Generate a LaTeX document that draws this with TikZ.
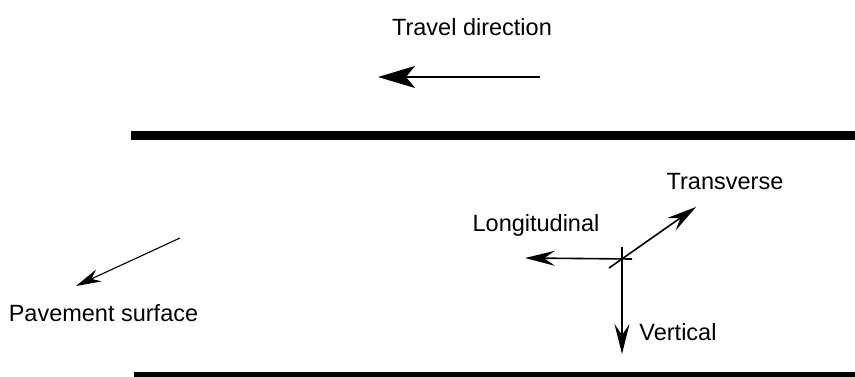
\documentclass[tikz,border=0pt]{standalone}
\usepackage{fontspec}
\setmainfont{Liberation Sans}
\usetikzlibrary{arrows.meta}
\begin{document}
\begin{tikzpicture}[x=1pt,y=-1pt,
  lbl/.style={anchor=base,inner sep=0pt,font=\fontsize{23.5}{28}\selectfont},
  road/.style={line width=8.5pt,black},
  bigarrow/.style={line width=1.2pt,-{Stealth[length=37pt,width=22pt,inset=9pt]}},
  axarrow/.style={line width=1.6pt,-{Stealth[length=30pt,width=15pt,inset=11pt]}},
  smallarrow/.style={line width=1.1pt,-{Stealth[length=25pt,width=13pt,inset=8pt]}}]
\useasboundingbox (0,0) rectangle (855,376);
% road edges
\coordinate (t1) at (131,135.5);
\coordinate (t2) at (855,135.5);
\draw[road] (t1) -- (t2);
\coordinate (b1) at (134,376);
\coordinate (b2) at (855,376);
\draw[road] (b1) -- (b2);
% labels
\node[lbl] (travel) at (472,35) {Travel direction};
\node[lbl] (pave) at (103.5,321) {Pavement surface};
\node[lbl] (trans) at (725,189) {Transverse};
\node[lbl] (longi) at (536,231.5) {Longitudinal};
\node[lbl] (vert) at (678,340) {Vertical};
% travel arrow
\coordinate (ta) at (540,77);
\coordinate (tb) at (378,77);
\draw[bigarrow] (ta) -- (tb);
% pavement arrow
\coordinate (pa) at (180,238);
\coordinate (pb) at (76,286);
\draw[smallarrow] (pa) -- (pb);
% axes
\coordinate (vs) at (622,247);
\coordinate (ve) at (622,354);
\coordinate (hs) at (632,259);
\coordinate (he) at (525,258);
\coordinate (ds) at (609,268);
\coordinate (de) at (696,207);
\draw[axarrow] (vs) -- (ve);
\draw[axarrow] (hs) -- (he);
\draw[axarrow] (ds) -- (de);
\end{tikzpicture}
\end{document}
